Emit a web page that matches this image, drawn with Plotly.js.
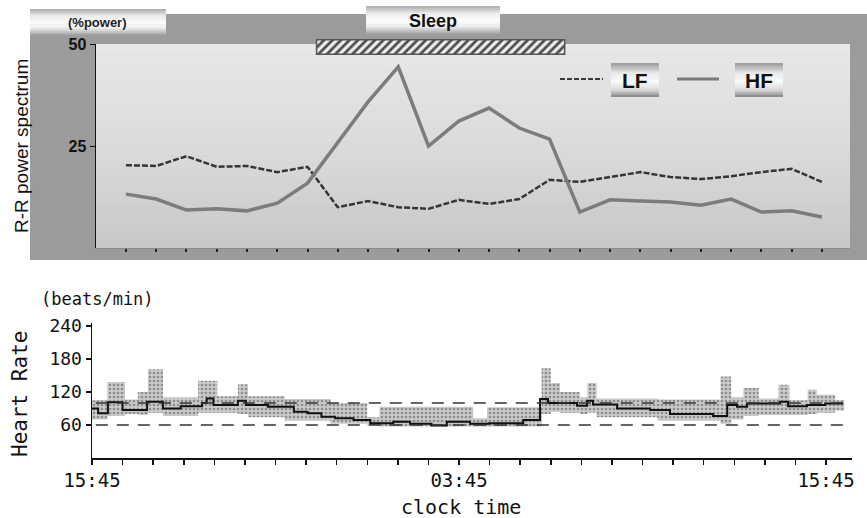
<!DOCTYPE html>
<html>
<head>
<meta charset="utf-8">
<script src="https://cdn.plot.ly/plotly-3.0.1.min.js"></script>
<style>html,body{margin:0;padding:0;background:#fff;}#chart{width:867px;height:518px;}</style>
</head>
<body>
<div id="chart"></div>
<script>
// ---------- DATA ----------
// Top panel: hourly R-R power spectrum (% power)
const spectrumIdx = [0,1,2,3,4,5,6,7,8,9,10,11,12,13,14,15,16,17,18,19,20,21,22,23];
const lfValues = [20.3,20.1,22.5,19.9,20.1,18.6,19.9,10.0,11.5,10.0,9.6,11.8,10.8,12.0,16.7,16.2,17.4,18.6,17.4,16.9,17.6,18.6,19.4,16.2];
const hfValues = [13.2,12.0,9.3,9.6,9.1,11.0,15.9,25.7,35.8,44.4,25.0,31.1,34.3,29.4,26.7,8.8,11.8,11.5,11.3,10.5,12.0,8.8,9.1,7.6];
const spectrumTicks = [25, 50];
const sleepPeriod = [6.3, 14.5];

// Bottom panel: heart rate (hours after 15:45)
const hrTime = [0,0.2,0.52,1.0,1.8,2.32,2.9,3.6,3.75,3.97,4.77,5.03,5.75,6.6,7.05,7.5,7.95,8.55,9.1,9.85,10.4,11.1,11.6,12.36,12.99,14.1,14.65,14.91,15.86,16.19,16.38,17.17,18.25,18.9,20.31,20.77,21.09,21.42,22.5,22.76,23.38,23.97,24.56];
const hrMean = [90,81,101,87,102,90,94,100,108,96,104,96,93,84,81,75,72,69,63,66,62,59,66,62,63,69,107,100,95,104,97,90,87,80,76,96,93,99,102,94,96,99,99];
const bandTime = [-0.12,0.5,1.08,1.5,1.83,2.32,3.47,4.1,4.77,5.1,6.3,7.8,9.0,9.4,12.46,12.92,14.7,15.0,15.3,15.95,16.2,16.5,18.5,20.55,20.9,21.3,21.8,22.45,22.8,23.4,23.7,24.3,24.6];
const bandHigh = [105,138,106,120,161,110,140,112,134,112,107,100,74,93,72,92,163,136,120,110,136,108,106,148,110,127,108,133,105,124,115,105,105];
const bandLow = [70,76,80,78,82,76,82,82,80,74,68,62,60,57,57,57,80,84,82,80,82,74,68,62,70,76,78,78,78,80,82,86,86];
const hrRefLines = [60, 100];
const hrTickVals = [0,1,2,3,4,5,6,7,8,9,10,11,12,13,14,15,16,17,18,19,20,21,22,23,24];
const hrTickLabels = {0:'15:45', 12:'03:45', 24:'15:45'};
const hrYTicks = [60,120,180,240];

// ---------- HELPERS ----------
const W = 867, H = 518;
const px = x => x / W;
const py = y => 1 - y / H;
const hex = g => { const v = Math.max(0, Math.min(255, Math.round(g))).toString(16).padStart(2,'0'); return '#' + v + v + v; };
function grayAt(stops, t) {
  for (let i = 0; i < stops.length - 1; i++) {
    const [p0, g0] = stops[i], [p1, g1] = stops[i+1];
    if (t >= p0 && t <= p1) return g0 + (g1 - g0) * (t - p0) / (p1 - p0 || 1);
  }
  return stops[stops.length-1][1];
}
const shapes = [];
function gradRect(x0, y0, x1, y1, stops, n, layer) {
  const h = (y1 - y0) / n;
  for (let i = 0; i < n; i++) {
    const ya = y0 + i * h, yb = y0 + (i + 1) * h + 0.6;
    shapes.push({type:'rect', xref:'paper', yref:'paper', x0:px(x0), x1:px(x1), y0:py(Math.min(yb,y1)), y1:py(ya),
      fillcolor: hex(grayAt(stops, (i + 0.5) / n)), line:{width:0}, layer: layer || 'below'});
  }
}
// gray panel background
shapes.push({type:'rect', xref:'paper', yref:'paper', x0:px(30), x1:px(867), y0:py(260), y1:py(14), fillcolor:'#9b9b9b', line:{width:0}, layer:'below'});
// plot area gradient
gradRect(96, 44, 850, 248, [[0,232],[0.5,219],[1,200]], 40);
// header boxes
const silver = [[0,170],[0.25,235],[0.5,252],[0.7,240],[1,150]];
gradRect(30, 9, 166, 36, silver, 16);
gradRect(366, 6, 500, 35, silver, 16);
// legend boxes
const legSilver = [[0,150],[0.3,235],[0.55,250],[0.8,215],[1,130]];
gradRect(611, 63, 659, 97, legSilver, 16);
gradRect(735, 63, 783, 97, legSilver, 16);
// legend line samples
shapes.push({type:'line', xref:'paper', yref:'paper', x0:px(560), x1:px(603), y0:py(79), y1:py(79), line:{color:'#3a3a3a', width:2, dash:'5px,2px'}, layer:'above'});
shapes.push({type:'line', xref:'paper', yref:'paper', x0:px(677), x1:px(719), y0:py(79), y1:py(79), line:{color:'#7a7a7a', width:3}, layer:'above'});
// heart rate reference lines
hrRefLines.forEach(v => {
  shapes.push({type:'line', xref:'x2 domain', yref:'y2', x0:0.005, x1:0.99, y0:v, y1:v, line:{color:'#333', width:1.5, dash:'12px,9px'}, layer:'above'});
});

// ---------- TRACES ----------
const traces = [
  {x: spectrumIdx, y: lfValues, type:'scatter', mode:'lines', xaxis:'x', yaxis:'y',
   line:{color:'#353535', width:2.5, dash:'6px,2px'}, hoverinfo:'skip'},
  {x: spectrumIdx, y: hfValues, type:'scatter', mode:'lines', xaxis:'x', yaxis:'y',
   line:{color:'#7c7c7c', width:3.5}, hoverinfo:'skip'},
  {type:'bar', orientation:'h', y:[0], x:[sleepPeriod[1]-sleepPeriod[0]], base:[sleepPeriod[0]], width:[1],
   xaxis:'x3', yaxis:'y3', hoverinfo:'skip',
   marker:{color:'#eeeeee', pattern:{shape:'/', fgcolor:'#4a4a4a', bgcolor:'#eeeeee', size:6, solidity:0.45}, line:{color:'#555', width:1.5}}},
  {x: bandTime, y: bandLow, type:'scatter', mode:'lines', xaxis:'x2', yaxis:'y2',
   line:{shape:'hv', width:0, color:'rgba(0,0,0,0)'}, hoverinfo:'skip'},
  {x: bandTime, y: bandHigh, type:'scatter', mode:'lines', xaxis:'x2', yaxis:'y2', fill:'tonexty',
   fillcolor:'#bdbdbd', fillpattern:{shape:'.', fgcolor:'#8e8e8e', bgcolor:'#cacaca', size:4, solidity:0.35},
   line:{shape:'hv', width:0, color:'rgba(0,0,0,0)'}, hoverinfo:'skip'},
  {x: hrTime, y: hrMean, type:'scatter', mode:'lines', xaxis:'x2', yaxis:'y2',
   line:{shape:'hv', width:2, color:'#111'}, hoverinfo:'skip'}
];

// ---------- LAYOUT ----------
const sans = 'Liberation Sans, Arial, sans-serif';
const mono = 'DejaVu Sans Mono, monospace';
const layout = {
  width: W, height: H,
  margin:{l:0, r:0, t:0, b:0},
  paper_bgcolor:'#ffffff', plot_bgcolor:'rgba(0,0,0,0)',
  showlegend:false,
  xaxis:{domain:[px(96), px(850)], range:[-0.99, 23.93], anchor:'y', tickvals:spectrumIdx, showticklabels:false,
    ticks:'outside', ticklen:3, tickwidth:2, tickcolor:'#222', showline:true, linecolor:'#8a8a8a', linewidth:1,
    showgrid:false, zeroline:false, fixedrange:true},
  yaxis:{domain:[py(248), py(44)], range:[0, 50], anchor:'x', tickvals:spectrumTicks, ticks:'outside', ticklen:5,
    tickcolor:'#111', showline:true, linecolor:'#111', linewidth:1.5, showgrid:false, zeroline:false,
    tickfont:{family:sans, size:16, color:'#111', weight:'bold'}, fixedrange:true},
  xaxis3:{domain:[px(96), px(850)], range:[-0.99, 23.93], anchor:'y3', visible:false, fixedrange:true},
  yaxis3:{domain:[py(55), py(39)], range:[-0.56, 0.56], anchor:'x3', visible:false, fixedrange:true},
  xaxis2:{domain:[px(92), px(852)], range:[0, 24.85], anchor:'y2', tickvals:hrTickVals,
    ticktext: hrTickVals.map(v => hrTickLabels[v] || ''), ticks:'outside', ticklen:5, tickwidth:1.5, tickcolor:'#111',
    showline:true, linecolor:'#111', linewidth:1.5, showgrid:false, zeroline:false,
    tickfont:{family:mono, size:19, color:'#111'}, fixedrange:true},
  yaxis2:{domain:[py(458), py(323)], range:[0, 245], anchor:'x2', tickvals:hrYTicks, ticks:'outside', ticklen:5,
    tickwidth:1.5, tickcolor:'#111', showline:true, linecolor:'#111', linewidth:1.5, showgrid:false, zeroline:false,
    tickfont:{family:mono, size:18, color:'#111'}, fixedrange:true},
  shapes: shapes,
  annotations:[
    {text:'(%power)', xref:'paper', yref:'paper', x:px(97), y:py(22), showarrow:false, xanchor:'center', yanchor:'middle',
     font:{family:sans, size:13, color:'#222', weight:'bold'}},
    {text:'Sleep', xref:'paper', yref:'paper', x:px(433), y:py(21), showarrow:false, xanchor:'center', yanchor:'middle',
     font:{family:sans, size:18, color:'#111', weight:'bold'}},
    {text:'R-R power spectrum', xref:'paper', yref:'paper', x:px(21), y:py(146), showarrow:false, textangle:-90,
     xanchor:'center', yanchor:'middle', font:{family:sans, size:19, color:'#111'}},
    {text:'LF', xref:'paper', yref:'paper', x:px(635), y:py(80), showarrow:false, xanchor:'center', yanchor:'middle',
     font:{family:sans, size:21, color:'#111', weight:'bold'}},
    {text:'HF', xref:'paper', yref:'paper', x:px(759), y:py(80), showarrow:false, xanchor:'center', yanchor:'middle',
     font:{family:sans, size:21, color:'#111', weight:'bold'}},
    {text:'(beats/min)', xref:'paper', yref:'paper', x:px(97), y:py(299), showarrow:false, xanchor:'center', yanchor:'middle',
     font:{family:mono, size:17, color:'#111'}},
    {text:'Heart Rate', xref:'paper', yref:'paper', x:px(20), y:py(394), showarrow:false, textangle:-90,
     xanchor:'center', yanchor:'middle', font:{family:mono, size:21, color:'#111'}},
    {text:'clock time', xref:'paper', yref:'paper', x:px(461), y:py(507), showarrow:false, xanchor:'center', yanchor:'middle',
     font:{family:mono, size:20, color:'#111'}}
  ]
};

Plotly.newPlot('chart', traces, layout, {staticPlot:true, displayModeBar:false});
</script>
</body>
</html>
